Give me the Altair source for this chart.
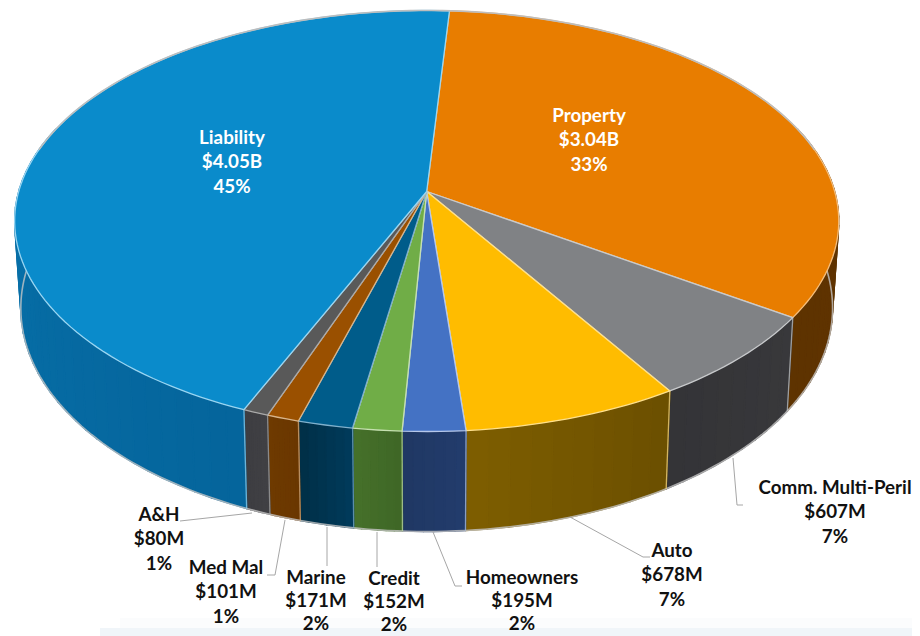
import math
import altair as alt
import pandas as pd

# ---- chart values ($M), clockwise from the top of the pie
names = ["Property", "Comm. Multi-Peril", "Auto", "Homeowners", "Credit", "Marine", "Med Mal", "A&H", "Liability"]
values = [3040, 607, 678, 195, 152, 171, 101, 80, 4050]
amounts = ["$3.04B", "$607M", "$678M", "$195M", "$152M", "$171M", "$101M", "$80M", "$4.05B"]
shares = ["33%", "7%", "7%", "2%", "2%", "2%", "1%", "1%", "45%"]

# ---- styles
top_colors = ["#E87D00", "#808285", "#FFBC00", "#4472C4", "#70AD47", "#005C8A", "#9A5000", "#595959", "#0A8BCB"]
top_edges = ["#F5BE7C", "#C8CACC", "#FFE08A", "#B5C7EA", "#C5E0B0", "#7FB0CC", "#D8B48A", "#AAAAAA", "#9AD6F2"]
wall_from = ["#643600", "#38383B", "#6C5000", "#223C6C", "#3F6726", "#003A5A", "#6A3700", "#404044", "#05659C"]
wall_to = ["#5E3300", "#343437", "#7D5D00", "#203864", "#45702A", "#003048", "#6E3A00", "#3E3E42", "#0A7EB9"]
dark_labels = [False, True, True, True, True, True, True, True, False]

# ---- pie geometry: a flat disc seen in perspective
START = math.radians(3.65)
APEX_X, APEX_Y = 426.7, 191.5
K, A, B = 0.14, 206.4, 408.0


def project(theta, wall=False):
    ux, uy = math.sin(theta), math.cos(theta)
    w = 1 + K * uy
    dx, dy = B * ux / w, -A * uy / w
    if wall:
        return APEX_X + 0.985 * dx, APEX_Y + dy + 85 - 15 * uy
    return APEX_X + dx, APEX_Y + dy


def mix(c1, c2, t):
    a = [int(c1[i:i + 2], 16) for i in (1, 3, 5)]
    b = [int(c2[i:i + 2], 16) for i in (1, 3, 5)]
    return "#%02x%02x%02x" % tuple(round(p + (q - p) * t) for p, q in zip(a, b))


total = sum(values)
bounds = [START]
for v in values:
    bounds.append(bounds[-1] + 2 * math.pi * v / total)

top_rows, wall_rows, sep_rows = [], [], []
for s, name in enumerate(names):
    t0, t1 = bounds[s], bounds[s + 1]
    n = max(3, int((t1 - t0) / math.radians(1.5)))
    pts = [(APEX_X, APEX_Y)] + [project(t0 + (t1 - t0) * j / n) for j in range(n + 1)] + [(APEX_X, APEX_Y)]
    for i, (x, y) in enumerate(pts):
        top_rows.append(dict(piece=name, i=i, x=x, y=y, c=top_colors[s], e=top_edges[s]))
    m = max(6, int((t1 - t0) / math.radians(2.5)))
    for j in range(m):
        a0 = t0 + (t1 - t0) * j / m
        a1 = t0 + (t1 - t0) * (j + 1) / m
        if math.cos((a0 + a1) / 2) > 0.3:
            continue
        col = mix(wall_from[s], wall_to[s], j / max(1, m - 1))
        poly = [project(a0), project(a1), project(a1, True), project(a0, True), project(a0)]
        for i, (x, y) in enumerate(poly):
            wall_rows.append(dict(piece=f"{name}-{j}", i=i, x=x, y=y, c=col))
    if math.cos(t0) < 0.3:
        for i, (x, y) in enumerate([project(t0), project(t0, True)]):
            sep_rows.append(dict(piece=name, i=i, x=x, y=y, e=top_edges[s]))

rim_rows = []
for j in range(0, 181):
    a = math.radians(72 + j * 216 / 180)
    x, y = project(a, True)
    rim_rows.append(dict(piece="rim", i=j, x=x, y=y))

back_rows = []
for j in range(0, 121):
    a = math.radians(-78 + j * 156 / 120)
    x, y = project(a)
    back_rows.append(dict(piece="back", i=j, x=x, y=y))

# ---- label placement (page pixels): centre x, y of the first line, line spacing
placement = {
    "Property": (589, 116, 24.4), "Comm. Multi-Peril": (835, 488, 24.4), "Auto": (672, 551, 24.4),
    "Homeowners": (522, 578, 23), "Credit": (394, 579, 23), "Marine": (316, 578, 23),
    "Med Mal": (226, 568, 24.4), "A&H": (159, 515, 24.4), "Liability": (232, 138, 24.4),
}
text_rows = []
for s, name in enumerate(names):
    px, py, gap = placement[name]
    for k, line in enumerate([name, amounts[s], shares[s]]):
        text_rows.append(dict(t=line, x=px, y=py + k * gap, c="#111111" if dark_labels[s] else "#FFFFFF"))

leaders = {
    "A&H": [(180, 521), (252, 513)],
    "Med Mal": [(267, 575), (275, 575), (285, 520)],
    "Marine": [(327, 527), (327, 566)],
    "Credit": [(377, 532), (377, 567)],
    "Homeowners": [(433, 532), (455, 586), (462, 586)],
    "Auto": [(570, 517), (643, 557), (650, 557)],
    "Comm. Multi-Peril": [(733, 458), (737, 505), (743, 505)],
}
leader_rows = [dict(piece=k, i=i, x=x, y=y) for k, v in leaders.items() for i, (x, y) in enumerate(v)]

xs = alt.Scale(domain=[8, 912], range=[0, 904])
ys = alt.Scale(domain=[8, 636], range=[0, 628])
X = alt.X("x:Q", scale=xs, axis=None)
Y = alt.Y("y:Q", scale=ys, axis=None)

backdrop = alt.Chart(pd.DataFrame([
    dict(x=120, x2=912, y=618, y2=636, c="#FBFCFD"),
    dict(x=100, x2=912, y=628, y2=636, c="#F0F5F9"),
])).mark_rect().encode(
    x=X, x2="x2:Q", y=Y, y2="y2:Q", fill=alt.Fill("c:N", scale=None))

walls = alt.Chart(pd.DataFrame(wall_rows)).mark_line(strokeWidth=1.5, strokeJoin="round").encode(
    x=X, y=Y, order="i:Q", detail="piece:N",
    fill=alt.Fill("c:N", scale=None), stroke=alt.Stroke("c:N", scale=None))

rim = alt.Chart(pd.DataFrame(rim_rows)).mark_line(strokeWidth=1.6, color="#C4C4C4", opacity=0.8).encode(
    x=X, y=Y, order="i:Q")

seps = alt.Chart(pd.DataFrame(sep_rows)).mark_line(strokeWidth=1.3, opacity=0.7).encode(
    x=X, y=Y, order="i:Q", detail="piece:N", stroke=alt.Stroke("e:N", scale=None))

tops = alt.Chart(pd.DataFrame(top_rows)).mark_line(strokeWidth=1.3, strokeJoin="round").encode(
    x=X, y=Y, order="i:Q", detail="piece:N",
    fill=alt.Fill("c:N", scale=None), stroke=alt.Stroke("e:N", scale=None))

back = alt.Chart(pd.DataFrame(back_rows)).mark_line(strokeWidth=1.6, color="#BDBDBD").encode(
    x=X, y=Y, order="i:Q")

lines = alt.Chart(pd.DataFrame(leader_rows)).mark_line(strokeWidth=1, color="#A6A6A6").encode(
    x=X, y=Y, order="i:Q", detail="piece:N")

labels = alt.Chart(pd.DataFrame(text_rows)).mark_text(
    font="Lato", fontSize=18.8, fontWeight=700, align="center", baseline="middle"
).encode(x=X, y=Y, text="t:N", fill=alt.Fill("c:N", scale=None))

chart = alt.layer(backdrop, walls, rim, seps, tops, back, lines, labels).properties(
    width=904, height=628, padding=0, autosize="none"
).configure(background="#FFFFFF", view=alt.ViewConfig(stroke=None))

chart.save("out.html", embed_options={"renderer": "svg", "actions": False})
